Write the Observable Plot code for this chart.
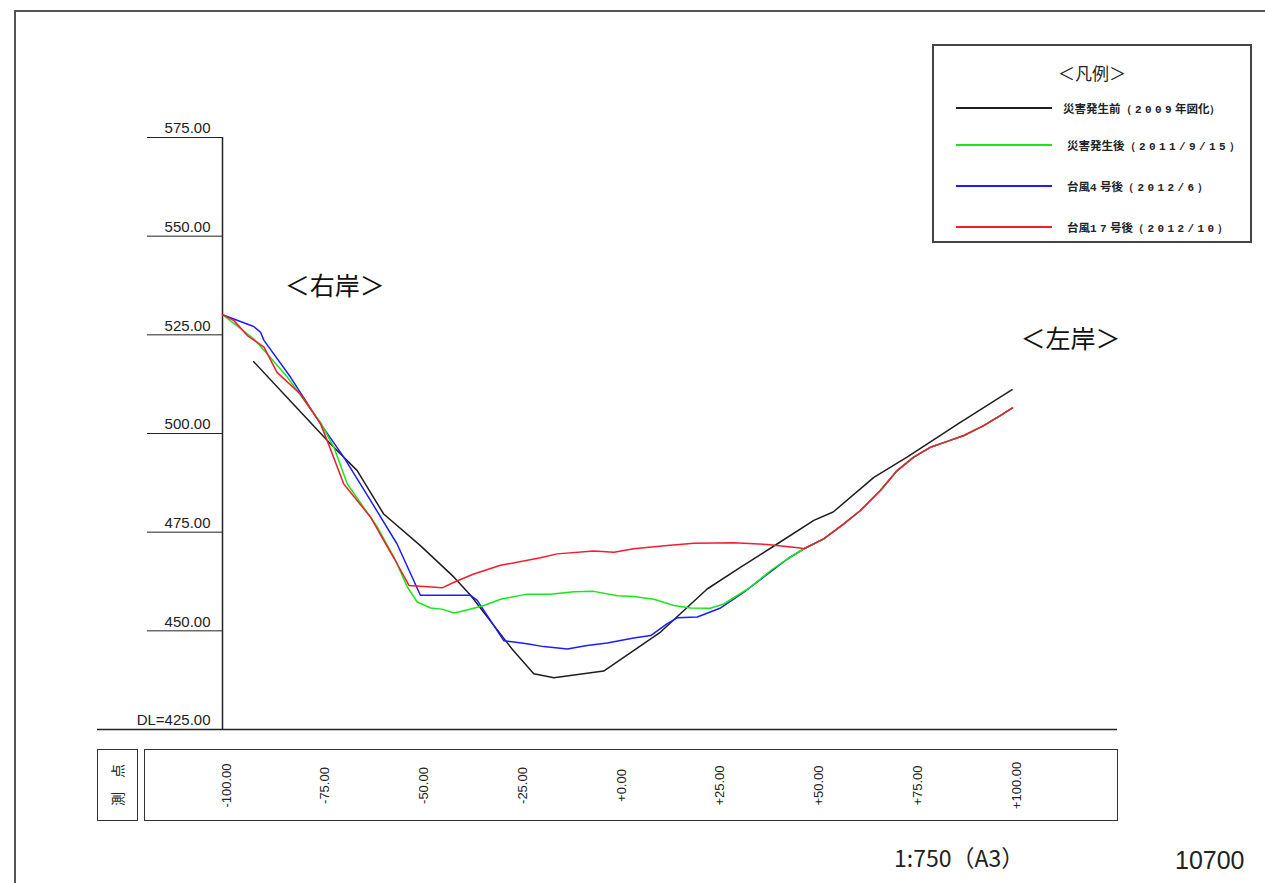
<!DOCTYPE html>
<html>
<head>
<meta charset="utf-8">
<script src="https://cdn.jsdelivr.net/npm/d3@7"></script>
<script src="https://cdn.jsdelivr.net/npm/@observablehq/plot@0.6"></script>
<style>
  html, body { margin: 0; padding: 0; background: #fff; }
  #page { position: relative; width: 1265px; height: 883px; overflow: hidden; background: #fff; font-family: "Liberation Sans", Arial, sans-serif; color: #222; }
  #page svg { position: absolute; left: 0; top: 0; }
  .frameTop { position: absolute; left: 14px; top: 10px; width: 1260px; height: 0; border-top: 2px solid #555; }
  .frameLeft { position: absolute; left: 14px; top: 10px; width: 0; height: 880px; border-left: 2px solid #555; }
  .box { position: absolute; border: 1.5px solid #333; box-sizing: border-box; }
  #legend { position: absolute; left: 932px; top: 44px; width: 320px; height: 199px; border: 2px solid #444; box-sizing: border-box; }
  #legend .title { position: absolute; left: 0; width: 100%; top: 14px; text-align: center; font-family: "Noto Sans CJK JP", sans-serif; font-size: 17px; }
  #legend .item { position: absolute; left: 0; height: 20px; }
  #legend .swatch { position: absolute; left: 22px; width: 96px; top: 9px; height: 0; border-top: 2px solid; }
  #legend .lab { position: absolute; white-space: nowrap; top: 1px; line-height: 18px; }
  .cjk { font-family: "Noto Sans CJK JP", sans-serif; font-size: 11.5px; font-weight: 700; }
  .mono { font-family: "Liberation Mono", "DejaVu Sans Mono", monospace; font-size: 11px; letter-spacing: 3.4px; font-weight: 700; }
  .sokuten { position: absolute; left: 97px; top: 749px; width: 40px; height: 71px; display: flex; align-items: center; justify-content: center; }
  .sokuten span { display: inline-block; transform: rotate(-90deg); font-family: "Noto Sans CJK JP", sans-serif; font-size: 14px; letter-spacing: 14px; white-space: nowrap; padding-left: 14px; }
  .scale { position: absolute; left: 894px; top: 842px; font-family: "Noto Sans CJK JP", sans-serif; font-size: 23px; line-height: 30px; white-space: nowrap; }
  .num { position: absolute; left: 1175px; top: 845px; font-family: "Liberation Sans", Arial, sans-serif; font-size: 25px; line-height: 30px; }
</style>
</head>
<body>
<div id="page"></div>
<script>
// ---- tick values ----
const xTicks = [-100, -75, -50, -25, 0, 25, 50, 75, 100];
const yTicks = [425, 450, 475, 500, 525, 550, 575];

// ---- series names ----
const seriesNames = ["災害発生前（2009年図化）", "災害発生後（2011/9/15）", "台風4号後（2012/6）", "台風17号後（2012/10）"];
const seriesColors = ["#1e1e1e", "#18e818", "#1c1cff", "#f41c2c"];

// ---- cross-section profiles [distance, elevation] ----
const before2009 = [
  [-92.1, 518.2], [-82.4, 507.8], [-72.7, 497.4], [-65.9, 490.6], [-59.2, 479.6], [-49.9, 471.6],
  [-41.4, 463.6], [-37.2, 459.0], [-26.7, 445.4], [-21.2, 439.1], [-16.1, 438.1], [-3.5, 439.8],
  [10.9, 449.7], [22.7, 460.6], [31.0, 466.0], [40.4, 472.0], [49.7, 478.0], [54.6, 480.1],
  [64.9, 488.9], [73.3, 494.0], [86.5, 502.6], [99.9, 511.1]
];

const rightSideShared = [
  [52.2, 473.3], [57.3, 477.1], [61.5, 480.5], [66.6, 485.6], [70.8, 490.6], [75.0, 494.0],
  [79.2, 496.5], [83.5, 498.0], [87.7, 499.5], [92.7, 502.0], [96.5, 504.3], [100.0, 506.5]
];

const after2011 = [
  [-100.0, 530.1], [-92.1, 524.0], [-88.7, 520.2], [-83.6, 514.3], [-75.2, 502.8], [-71.8, 496.5],
  [-68.4, 487.2], [-60.8, 476.3], [-56.6, 468.7], [-53.2, 461.1], [-50.7, 457.3], [-47.3, 455.8],
  [-44.4, 455.5], [-41.4, 454.5], [-38.1, 455.3], [-33.8, 456.4], [-29.6, 458.0], [-22.9, 459.3],
  [-17.0, 459.3], [-11.1, 459.9], [-6.0, 460.0], [0.0, 458.9], [4.1, 458.7], [9.2, 458.0],
  [14.3, 456.4], [18.5, 455.8], [23.5, 455.7], [26.9, 456.8], [33.7, 461.1], [39.2, 465.6],
  [43.0, 468.2], [47.2, 470.8]
].concat(rightSideShared);

const typhoon4 = [
  [-100.0, 530.1], [-92.1, 527.1], [-90.4, 525.7], [-89.5, 523.6], [-82.8, 514.3], [-75.2, 502.5],
  [-69.3, 494.0], [-62.5, 483.0], [-55.8, 472.0], [-49.9, 459.0], [-37.2, 459.0], [-35.5, 457.7],
  [-33.8, 455.1], [-28.8, 447.5], [-22.9, 446.7], [-18.7, 446.0], [-12.7, 445.4], [-7.7, 446.3],
  [-2.6, 446.9], [4.1, 448.2], [8.4, 448.8], [12.6, 451.8], [15.1, 453.3], [20.2, 453.5],
  [26.1, 455.8], [32.0, 459.8], [39.2, 465.3], [43.0, 468.2], [47.2, 470.8]
].concat(rightSideShared);

const typhoon17 = [
  [-100.0, 530.1], [-97.1, 528.6], [-93.7, 524.8], [-89.5, 521.9], [-86.2, 515.5], [-80.3, 510.0],
  [-75.2, 502.5], [-73.5, 498.2], [-69.3, 487.2], [-62.5, 478.8], [-59.2, 472.9], [-55.8, 467.0],
  [-52.8, 461.5], [-49.9, 461.3], [-44.4, 460.9], [-41.4, 462.3], [-36.4, 464.4], [-29.6, 466.6],
  [-19.5, 468.5], [-15.3, 469.5], [-6.0, 470.2], [-0.9, 469.9], [4.1, 470.8], [12.6, 471.6],
  [19.3, 472.2], [29.4, 472.3], [37.9, 471.9], [46.3, 471.0], [47.2, 470.8]
].concat(rightSideShared);

const bankLabels = ["＜右岸＞", "＜左岸＞"];
const scaleText = "1:750（A3）";
const sheetNumber = "10700";
const sokutenText = "測点";

const fmtX = d => (d >= 0 ? "+" : "") + d.toFixed(2);
const fmtY = d => d === 425 ? "DL=425.00" : d.toFixed(2);

const profiles = [before2009, typhoon4, after2011, typhoon17];
const order = [0, 2, 1, 3];

const chart = Plot.plot({
  width: 1265,
  height: 883,
  marginLeft: 222,
  marginRight: 253,
  marginTop: 137,
  marginBottom: 154,
  x: {domain: [-100, 100], label: null},
  y: {domain: [425, 575], label: null},
  style: {fontFamily: "Liberation Sans, Arial, sans-serif", color: "#222", background: "transparent", overflow: "visible"},
  marks: [
    Plot.ruleX([-100], {stroke: "#222", strokeWidth: 1.5}),
    Plot.ruleY([425], {stroke: "#222", strokeWidth: 1.5, insetLeft: -125, insetRight: -105}),
    Plot.axisY(yTicks, {tickSize: 75, tickFormat: () => "", stroke: "#222", strokeOpacity: 1, label: null}),
    Plot.axisY(yTicks, {tickSize: 0, tickPadding: 12, dy: -9, tickFormat: fmtY, fontSize: 15, label: null}),
    Plot.axisX(xTicks, {tickSize: 0, tickPadding: 56, tickRotate: -90, textAnchor: "middle", lineAnchor: "middle", dx: 4, tickFormat: fmtX, fontSize: 13, label: null}),
    ...profiles.map((p, i) => Plot.line(p, {x: d => d[0], y: d => d[1], stroke: seriesColors[order[i]], strokeWidth: 1.5})),
    Plot.text([bankLabels[0]], {x: -71.6, y: 537.2, text: d => d, fontSize: 25, fontFamily: "Noto Sans CJK JP", fill: "#111"}),
    Plot.text([bankLabels[1]], {x: 114.7, y: 523.6, text: d => d, fontSize: 25, fontFamily: "Noto Sans CJK JP", fill: "#111"})
  ]
});

const page = document.getElementById("page");
page.appendChild(chart);

function add(cls, style, html) {
  const el = document.createElement("div");
  el.className = cls;
  if (style) el.setAttribute("style", style);
  if (html != null) el.innerHTML = html;
  page.appendChild(el);
  return el;
}

add("frameTop");
add("frameLeft");
add("box", "left:97px;top:749px;width:41px;height:72px;");
add("box", "left:144px;top:749px;width:974px;height:72px;");
add("sokuten", null, "<span>" + sokutenText + "</span>");
add("scale", null, scaleText);
add("num", null, sheetNumber);

// legend
const legend = add("", null, null);
legend.id = "legend";
legend.innerHTML = '<div class="title">＜凡例＞</div>';
const itemTops = [52, 89, 130, 171];
const labLefts = [129, 133, 133, 133];
function splitRuns(s) {
  const runs = [];
  const re = /([\u3000-\u303f\u3040-\u30ff\u4e00-\u9fff]+)|([^\u3000-\u303f\u3040-\u30ff\u4e00-\u9fff]+)/g;
  let m;
  while ((m = re.exec(s))) runs.push(m[1] ? '<span class="cjk">' + m[1] + '</span>' : '<span class="mono">' + m[2] + '</span>');
  return runs.join("");
}
seriesNames.forEach((name, i) => {
  const it = document.createElement("div");
  it.className = "item";
  it.style.top = itemTops[i] + "px";
  it.style.width = "100%";
  it.innerHTML = '<div class="swatch" style="border-color:' + seriesColors[i] + '"></div>' +
    '<div class="lab" style="left:' + labLefts[i] + 'px">' + splitRuns(name) + '</div>';
  legend.appendChild(it);
});
</script>
</body>
</html>
